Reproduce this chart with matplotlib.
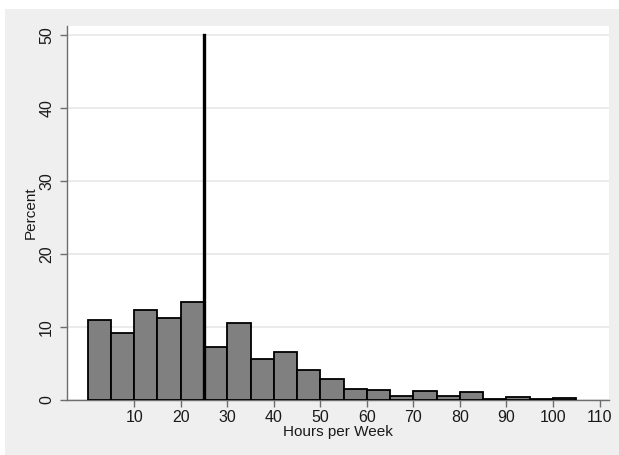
import matplotlib
matplotlib.use("Agg")
import matplotlib.pyplot as plt
from matplotlib.patches import Rectangle

# histogram of hours per week, bins of width 5 (left edges)
bin_edges = list(range(0, 105, 5))
percents = [11.0, 9.2, 12.4, 11.2, 13.4, 7.3, 10.5, 5.6, 6.6, 4.1, 2.9,
            1.5, 1.4, 0.6, 1.3, 0.5, 1.1, 0.1, 0.4, 0.15, 0.3]
ref_x = 25
xticks = [10, 20, 30, 40, 50, 60, 70, 80, 90, 100, 110]
yticks = [0, 10, 20, 30, 40, 50]

plt.rcParams['font.family'] = ['Liberation Sans', 'DejaVu Sans']

fig = plt.figure(figsize=(6.19, 4.55), dpi=100)
fig.patch.set_facecolor('white')
# stata style grey graph region
fig.patches.append(Rectangle((5 / 619, 0), 1, 1 - 9 / 455, transform=fig.transFigure,
                             facecolor='#efefef', edgecolor='none', zorder=-10))

ax = fig.add_axes([66.7 / 619, 1 - 400 / 455, (609.3 - 66.7) / 619, (400 - 25.7) / 455])
ax.set_facecolor('white')

ax.bar(bin_edges, percents, width=5, align='edge', color='#808080',
       edgecolor='black', linewidth=1.3, zorder=3)
ax.plot([ref_x, ref_x], [0, 50], color='black', linewidth=2.4, zorder=4)

ax.set_xlim(-4.5, 112.1)
ax.set_ylim(0, 51.3)
ax.set_xticks(xticks)
ax.set_yticks(yticks)
ax.set_yticklabels([str(v) for v in yticks], rotation=90, va='center')
ax.grid(axis='y', color='#e8e8e8', linewidth=1.2, zorder=0)

for side in ['top', 'right']:
    ax.spines[side].set_visible(False)
for side in ['left', 'bottom']:
    ax.spines[side].set_color('#6e6e6e')
    ax.spines[side].set_linewidth(1.0)

ax.tick_params(axis='both', colors='#6e6e6e', labelcolor='#1a1a1a',
               labelsize=11.5, length=5, width=1.0)
ax.tick_params(axis='y', pad=4)
ax.tick_params(axis='x', pad=2)

ax.set_xlabel('Hours per Week', fontsize=11, color='#1a1a1a', labelpad=0)
ax.set_ylabel('Percent', fontsize=11, color='#1a1a1a', labelpad=1)

fig.savefig('out.png', dpi=100, facecolor=fig.get_facecolor())
